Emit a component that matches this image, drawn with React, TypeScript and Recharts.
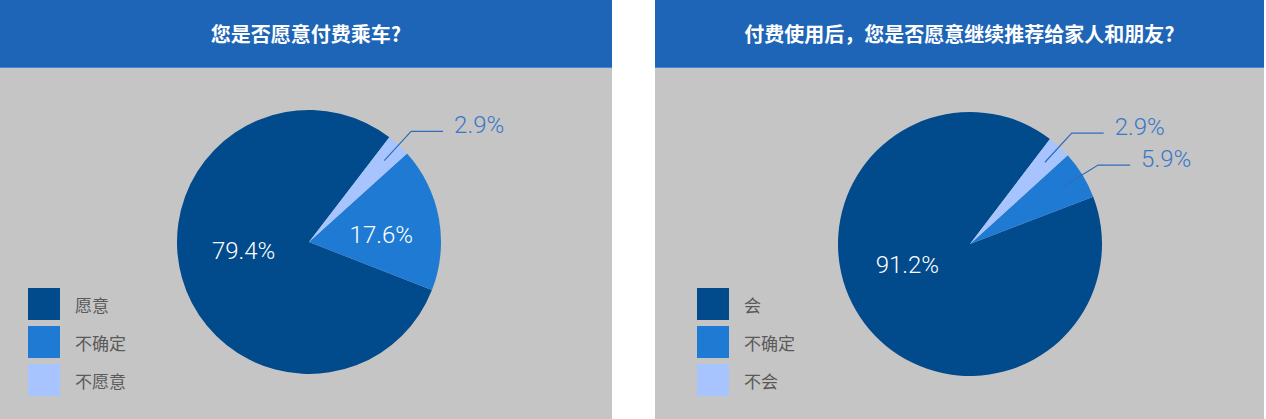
import { PieChart, Pie, Cell } from 'recharts';

// left panel: 您是否愿意付费乘车?
const rideNames = ['愿意', '不确定', '不愿意'];
const rideValues = [79.4, 17.6, 2.9];

// right panel: recommend after paying
const recommendNames = ['会', '不确定', '不会'];
const recommendValues = [91.2, 5.9, 2.9];

const titles = ['您是否愿意付费乘车?', '付费使用后，您是否愿意继续推荐给家人和朋友?'];

const sliceColors = ['#014A8B', '#1E7AD2', '#A8C4FF'];

const RADIAN = Math.PI / 180;
const labelFont = 'Roboto, "Liberation Sans", Arial, sans-serif';
const cjkFont = '"Noto Sans CJK SC", "Noto Sans", sans-serif';

const polar = (cx: number, cy: number, r: number, angle: number) => ({
  x: cx + r * Math.cos(-angle * RADIAN),
  y: cy + r * Math.sin(-angle * RADIAN),
});

const renderLabel = (props: any) => {
  const { cx, cy, midAngle, outerRadius, value, index } = props;
  const text = `${Number(value).toFixed(1)}%`;
  // normalise to -180..180
  let mid = ((midAngle % 360) + 360) % 360;
  if (mid > 180) mid -= 360;

  if (value >= 10) {
    // inside label, pulled a bit toward the horizontal
    const base = Math.abs(mid) > 90 ? (mid > 0 ? 180 : -180) : 0;
    const angle = base + (mid - base) * 0.5;
    const r = outerRadius * (base === 0 ? 0.55 : 0.5);
    const p = polar(cx, cy, r, angle);
    return (
      <text
        key={`l-${index}`}
        x={p.x}
        y={p.y}
        fill="#ffffff"
        textAnchor="middle"
        dominantBaseline="central"
        fontFamily={labelFont}
        fontWeight={300}
        fontSize={24}
      >
        {text}
      </text>
    );
  }

  // small slice: leader line out to the right
  const start = polar(cx, cy, outerRadius * 0.84, mid);
  const elbow = polar(cx, cy, outerRadius * 1.14, mid);
  const endX = elbow.x + 32;
  return (
    <g key={`l-${index}`}>
      <polyline
        points={`${start.x},${start.y} ${elbow.x},${elbow.y} ${endX},${elbow.y}`}
        fill="none"
        stroke="#2F6DBA"
        strokeWidth={1.2}
      />
      <text
        x={endX + 11}
        y={elbow.y - 6}
        fill="#3A77C6"
        textAnchor="start"
        dominantBaseline="central"
        fontFamily={labelFont}
        fontWeight={300}
        fontSize={24}
      >
        {text}
      </text>
    </g>
  );
};

const LegendBox = ({ names, left }: { names: string[]; left: number }) => (
  <div style={{ position: 'absolute', left, top: 285 }}>
    {names.map((n, i) => (
      <div key={n} style={{ display: 'flex', alignItems: 'center', height: 38 }}>
        <div style={{ width: 32, height: 32, background: sliceColors[i] }} />
        <span
          style={{
            marginLeft: 15,
            fontFamily: cjkFont,
            fontSize: 17,
            color: '#595959',
          }}
        >
          {n}
        </span>
      </div>
    ))}
  </div>
);

interface PanelProps {
  title: string;
  names: string[];
  values: number[];
  width: number;
  cx: number;
  cy: number;
  startAngle: number;
  legendLeft: number;
}

const Panel = ({ title, names, values, width, cx, cy, startAngle, legendLeft }: PanelProps) => {
  const data = names.map((name, i) => ({ name, value: values[i] }));
  return (
    <div style={{ width, height: 419, background: '#C5C5C5', position: 'relative' }}>
      <div
        style={{
          height: 67,
          background: '#1E64B7',
          borderBottom: '1px solid #4A86CF',
          color: '#ffffff',
          fontFamily: cjkFont,
          fontWeight: 700,
          fontSize: 20,
          display: 'flex',
          alignItems: 'center',
          justifyContent: 'center',
        }}
      >
        {title}
      </div>
      <PieChart width={width} height={351} margin={{ top: 0, right: 0, bottom: 0, left: 0 }}>
        <Pie
          data={data}
          dataKey="value"
          nameKey="name"
          cx={cx}
          cy={cy}
          outerRadius={132}
          startAngle={startAngle}
          endAngle={startAngle + 360}
          stroke="none"
          label={renderLabel}
          labelLine={false}
          isAnimationActive={false}
        >
          {data.map((d, i) => (
            <Cell key={d.name} fill={sliceColors[i]} />
          ))}
        </Pie>
      </PieChart>
      <LegendBox names={names} left={legendLeft} />
    </div>
  );
};

export default function App() {
  return (
    <div
      style={{
        position: 'absolute',
        left: 0,
        top: 0,
        width: 1266,
        height: 419,
        background: '#ffffff',
        display: 'flex',
      }}
    >
      <Panel
        title={titles[0]}
        names={rideNames}
        values={rideValues}
        width={612}
        cx={309}
        cy={174}
        startAngle={52.5}
        legendLeft={28}
      />
      <div style={{ width: 43 }} />
      <Panel
        title={titles[1]}
        names={recommendNames}
        values={recommendValues}
        width={609}
        cx={315}
        cy={176}
        startAngle={52.7}
        legendLeft={42}
      />
    </div>
  );
}
